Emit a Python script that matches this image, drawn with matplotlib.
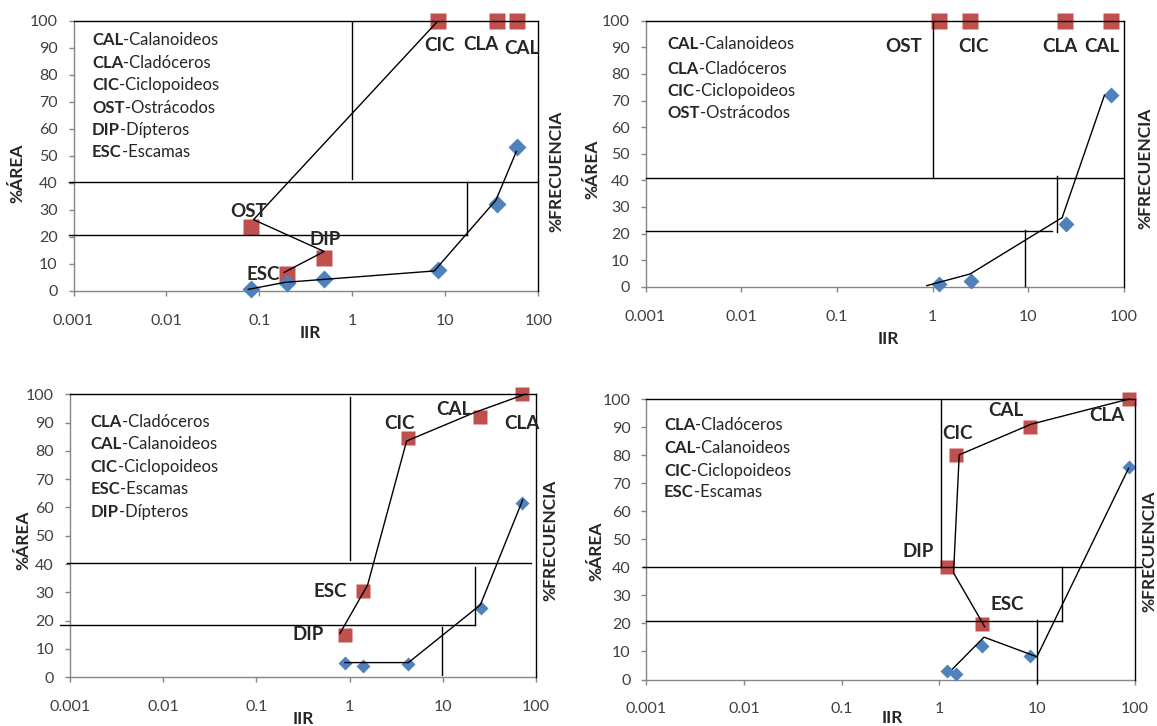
import matplotlib
matplotlib.use("Agg")
import matplotlib.pyplot as plt

plt.rcParams["font.family"] = ["Lato", "DejaVu Sans"]

# ---------------------------------------------------------------- data
x_ticks = [0.001, 0.01, 0.1, 1, 10, 100]
x_tick_labels = ["0.001", "0.01", "0.1", "1", "10", "100"]
y_ticks = [0, 10, 20, 30, 40, 50, 60, 70, 80, 90, 100]

# Panel A
a_freq_lab = ["CIC", "CLA", "CAL", "OST", "DIP", "ESC"]
a_freq_x = [8.4, 35.7, 59.0, 0.081, 0.50, 0.20]
a_freq_y = [100, 100, 100, 23.4, 12.1, 6.3]
a_area_x = [0.081, 0.20, 0.50, 8.4, 35.7, 59.0]
a_area_y = [0.6, 2.8, 4.3, 7.8, 32.2, 53.0]
a_freq_line_x = [8.05, 0.0865, 0.497, 0.185]
a_freq_line_y = [99.3, 26.3, 14.5, 6.8]
a_area_line_x = [0.076, 0.189, 7.6, 35.0, 58.0]
a_area_line_y = [0.5, 3.1, 7.3, 33.5, 51.5]
a_legend_abbr = ["CAL", "CLA", "CIC", "OST", "DIP", "ESC"]
a_legend_name = ["Calanoideos", "Cladóceros", "Ciclopoideos", "Ostrácodos",
                 "Dípteros", "Escamas"]
a_hlines = [(100, 0.001, 100), (40.4, 0.00089, 100), (20.7, 0.00089, 17.1)]
a_vlines = [(100, 0, 100), (1, 41.5, 99.3), (17.1, 20.7, 40.4)]

# Panel B
b_freq_lab = ["OST", "CIC", "CLA", "CAL"]
b_freq_x = [1.18, 2.47, 24.3, 73.3]
b_freq_y = [100, 100, 100, 100]
b_area_x = [1.18, 2.5, 24.5, 73.0]
b_area_y = [1.0, 2.1, 23.6, 72.0]
b_freq_line_x = []
b_freq_line_y = []
b_area_line_x = [0.87, 2.47, 22.6, 62.5]
b_area_line_y = [0.4, 4.8, 26.0, 72.0]
b_legend_abbr = ["CAL", "CLA", "CIC", "OST"]
b_legend_name = ["Calanoideos", "Cladóceros", "Ciclopoideos", "Ostrácodos"]
b_hlines = [(100, 0.001, 100), (40.7, 0.001, 101), (20.9, 0.001, 17.8)]
b_vlines = [(100, 0, 100), (1.02, 40.7, 100), (19.8, 20.7, 41.6),
            (9.3, 0.4, 21.5)]

# Panel C
c_freq_lab = ["CLA", "CAL", "CIC", "ESC", "DIP"]
c_freq_x = [70.0, 25.3, 4.28, 1.39, 0.89]
c_freq_y = [100, 91.9, 84.5, 30.5, 15.0]
c_area_x = [0.89, 1.39, 4.28, 25.5, 70.0]
c_area_y = [5.2, 4.1, 4.6, 24.4, 61.7]
c_freq_line_x = [0.787, 1.56, 4.09, 21.7, 76.0]
c_freq_line_y = [15.5, 32.6, 83.5, 93.5, 100.0]
c_area_line_x = [0.89, 4.28, 25.3, 72.0]
c_area_line_y = [5.2, 5.2, 25.6, 62.7]
c_legend_abbr = ["CLA", "CAL", "CIC", "ESC", "DIP"]
c_legend_name = ["Cladóceros", "Calanoideos", "Ciclopoideos", "Escamas",
                 "Dípteros"]
c_hlines = [(100, 0.001, 100), (40.5, 0.00092, 89.0), (18.6, 0.00079, 22.0)]
c_vlines = [(100, 0, 100), (1, 41.5, 99.2), (22.0, 18.4, 39.0),
            (9.8, 0.8, 17.9)]

# Panel D
d_freq_lab = ["CLA", "CAL", "CIC", "DIP", "ESC"]
d_freq_x = [87.0, 8.5, 1.49, 1.2, 2.73]
d_freq_y = [100, 89.9, 80.0, 40.1, 19.9]
d_area_x = [1.2, 1.49, 2.73, 8.5, 87.0]
d_area_y = [3.0, 2.0, 12.1, 8.5, 75.6]
d_freq_line_x = [2.92, 1.40, 1.6, 8.7, 88.0]
d_freq_line_y = [18.8, 38.0, 80.1, 91.0, 100.0]
d_area_line_x = [1.37, 2.87, 10.0, 87.0]
d_area_line_y = [3.8, 15.1, 8.1, 75.3]
d_legend_abbr = ["CLA", "CAL", "CIC", "ESC"]
d_legend_name = ["Cladóceros", "Calanoideos", "Ciclopoideos", "Escamas"]
d_hlines = [(100, 0.001, 100), (40.0, 0.00091, 118), (21.0, 0.001, 18.0)]
d_vlines = [(100, 0, 100), (1.04, 40.0, 99.6), (18.0, 21.0, 40.0),
            (10.0, -1.2, 21.3)]

# ---------------------------------------------------------------- layout
W, H = 1157, 726
RED = "#C0504D"
BLUE = "#4F81BD"
AXIS_GREY = "#868686"
TEXT = "#404040"
DARK = "#262626"


def rect(left, right, top, bottom):
    return [left / W, 1 - bottom / H, (right - left) / W, (bottom - top) / H]


panels = [
    dict(rect=rect(73.5, 538.3, 20.5, 290.7),
         freq=(a_freq_x, a_freq_y, a_freq_lab), area=(a_area_x, a_area_y),
         fline=(a_freq_line_x, a_freq_line_y), aline=(a_area_line_x, a_area_line_y),
         legend=(a_legend_abbr, a_legend_name), hl=a_hlines, vl=a_vlines,
         lab_pos={"CIC": (8.6, 90.6), "CLA": (24.3, 91.0), "CAL": (66.7, 89.8),
                  "OST": (0.0767, 29.3), "DIP": (0.51, 18.9), "ESC": (0.109, 5.9)},
         leg_x=0.040, leg_y=[92.8, 84.2, 76.0, 67.6, 59.6, 51.3],
         sq=12.0, dm=9.3, area_lab=(-0.12, 0.435), freq_lab=(1.038, 0.44),
         iir=(0.51, -0.157)),
    dict(rect=rect(645.5, 1124, 20.7, 286.7),
         freq=(b_freq_x, b_freq_y, b_freq_lab), area=(b_area_x, b_area_y),
         fline=(b_freq_line_x, b_freq_line_y), aline=(b_area_line_x, b_area_line_y),
         legend=(b_legend_abbr, b_legend_name), hl=b_hlines, vl=b_vlines,
         lab_pos={"OST": (0.5, 90.2), "CIC": (2.7, 90.2), "CLA": (21.2, 90.2),
                  "CAL": (58.7, 90.2)},
         leg_x=0.046, leg_y=[91.2, 81.7, 73.6, 65.2],
         sq=11.0, dm=8.0, area_lab=(-0.11, 0.44), freq_lab=(1.044, 0.445),
         iir=(0.508, -0.195)),
    dict(rect=rect(70, 536, 394.3, 677.3),
         freq=(c_freq_x, c_freq_y, c_freq_lab), area=(c_area_x, c_area_y),
         fline=(c_freq_line_x, c_freq_line_y), aline=(c_area_line_x, c_area_line_y),
         legend=(c_legend_abbr, c_legend_name), hl=c_hlines, vl=c_vlines,
         lab_pos={"CIC": (3.47, 89.8), "CAL": (13.1, 94.5), "CLA": (70.0, 89.8),
                  "ESC": (0.625, 30.3), "DIP": (0.358, 15.2)},
         leg_x=0.044, leg_y=[90.3, 82.4, 74.4, 66.4, 58.5],
         sq=10.5, dm=7.2, area_lab=(-0.10, 0.485), freq_lab=(1.03, 0.485),
         iir=(0.50, -0.148)),
    dict(rect=rect(646.5, 1134.5, 399, 679.5),
         freq=(d_freq_x, d_freq_y, d_freq_lab), area=(d_area_x, d_area_y),
         fline=(d_freq_line_x, d_freq_line_y), aline=(d_area_line_x, d_area_line_y),
         legend=(d_legend_abbr, d_legend_name), hl=d_hlines, vl=d_vlines,
         lab_pos={"CAL": (4.77, 95.8), "CLA": (52.0, 94.0), "CIC": (1.53, 87.8),
                  "DIP": (0.60, 45.7), "ESC": (4.99, 26.7)},
         leg_x=0.036, leg_y=[90.7, 82.4, 74.5, 66.7],
         sq=10.5, dm=7.5, area_lab=(-0.103, 0.457), freq_lab=(1.03, 0.457),
         iir=(0.504, -0.136)),
]

fig = plt.figure(figsize=(W / 100, H / 100), dpi=100)

for p in panels:
    ax = fig.add_axes(p["rect"])
    ax.set_xscale("log")
    ax.set_xlim(0.001, 100)
    ax.set_ylim(0, 100)
    ax.set_xticks(x_ticks)
    ax.set_xticklabels(x_tick_labels)
    ax.minorticks_off()
    ax.set_yticks(y_ticks)
    for s in ("top", "right"):
        ax.spines[s].set_visible(False)
    for s in ("left", "bottom"):
        ax.spines[s].set_color(AXIS_GREY)
        ax.spines[s].set_linewidth(1.0)
    ax.tick_params(axis="x", direction="out", length=3.5, width=1,
                   color=AXIS_GREY, labelsize=11.5, labelcolor=TEXT, pad=13)
    ax.tick_params(axis="y", direction="out", length=3.5, width=1,
                   color=AXIS_GREY, labelsize=11.5, labelcolor=TEXT, pad=8)
    ax.patch.set_alpha(0)

    # markers
    fx, fy, flab = p["freq"]
    ax.plot(fx, fy, "s", color=RED, ms=p["sq"], mec="none", zorder=3,
            clip_on=False)
    axx, axy = p["area"]
    ax.plot(axx, axy, "D", color=BLUE, ms=p["dm"], mec="none", zorder=3,
            clip_on=False)

    # connector lines
    lx, ly = p["fline"]
    if lx:
        ax.plot(lx, ly, color="black", lw=1.0, zorder=4, clip_on=False)
    lx, ly = p["aline"]
    ax.plot(lx, ly, color="black", lw=1.0, zorder=4, clip_on=False)

    # quadrant guide lines
    for y, x0, x1 in p["hl"]:
        ax.plot([x0, x1], [y, y], color="black", lw=1.0, zorder=4, clip_on=False)
    for x, y0, y1 in p["vl"]:
        ax.plot([x, x], [y0, y1], color="black", lw=1.0, zorder=4, clip_on=False)

    # prey labels
    for name in flab:
        tx, ty = p["lab_pos"][name]
        ax.text(tx, ty, name, ha="center", va="center", fontsize=13.5,
                fontweight="bold", color=DARK, zorder=5)

    # abbreviations key
    trans = ax.get_yaxis_transform()
    abbrs, names = p["legend"]
    for ab, nm, yy in zip(abbrs, names, p["leg_y"]):
        t = ax.text(p["leg_x"], yy, ab, transform=trans, ha="left",
                    va="center", fontsize=12, fontweight="bold", color=DARK)
        ax.annotate("-" + nm, xy=(1, 0.5), xycoords=t, ha="left",
                    va="center", fontsize=12, color=DARK)

    # axis titles
    ax.text(*p["area_lab"], "%ÁREA", transform=ax.transAxes, rotation=90,
            ha="center", va="center", fontsize=12.5, fontweight="bold",
            color=DARK)
    ax.text(*p["freq_lab"], "%FRECUENCIA", transform=ax.transAxes,
            rotation=90, ha="center", va="center", fontsize=12.5,
            fontweight="bold", color=DARK)
    ax.text(*p["iir"], "IIR", transform=ax.transAxes, ha="center",
            va="center", fontsize=12.5, fontweight="bold", color=DARK)

fig.savefig("out.png", dpi=100)
